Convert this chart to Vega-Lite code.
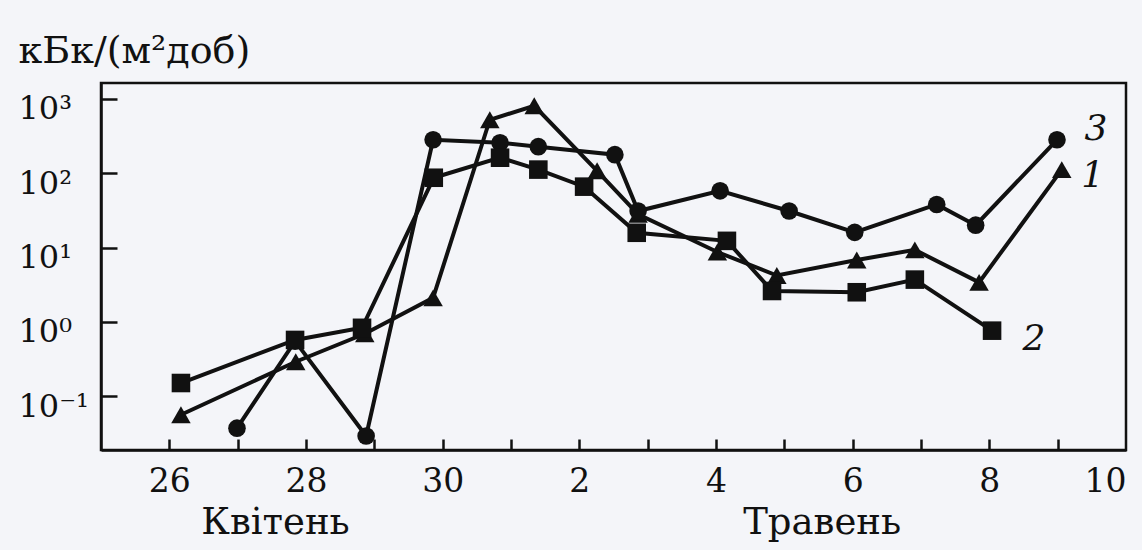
{
  "$schema": "https://vega.github.io/schema/vega-lite/v6.json",
  "width": 1025,
  "height": 367,
  "autosize": {"type": "none"},
  "padding": {"left": 101, "top": 83, "right": 16, "bottom": 100},
  "background": "#f4f5f9",
  "config": {
    "view": {"stroke": "#111111", "strokeWidth": 2.5},
    "font": "DejaVu Serif"
  },
  "resolve": {"axis": {"x": "independent", "y": "independent"}},
  "data": {
    "values": [
      {"s": "1", "t": 1.17, "v": 0.056},
      {"s": "1", "t": 2.85, "v": 0.29},
      {"s": "1", "t": 3.86, "v": 0.69},
      {"s": "1", "t": 4.86, "v": 2.1},
      {"s": "1", "t": 5.69, "v": 525},
      {"s": "1", "t": 6.34, "v": 810},
      {"s": "1", "t": 7.26, "v": 108},
      {"s": "1", "t": 7.86, "v": 28},
      {"s": "1", "t": 9.02, "v": 8.7},
      {"s": "1", "t": 9.89, "v": 4.2},
      {"s": "1", "t": 11.06, "v": 6.8},
      {"s": "1", "t": 11.91, "v": 9.3},
      {"s": "1", "t": 12.85, "v": 3.4},
      {"s": "1", "t": 14.06, "v": 112},
      {"s": "3", "t": 1.99, "v": 0.037},
      {"s": "3", "t": 2.84, "v": 0.55},
      {"s": "3", "t": 3.88, "v": 0.029},
      {"s": "3", "t": 4.86, "v": 282},
      {"s": "3", "t": 5.84, "v": 257},
      {"s": "3", "t": 6.4, "v": 228},
      {"s": "3", "t": 7.52, "v": 178},
      {"s": "3", "t": 7.86, "v": 31},
      {"s": "3", "t": 9.06, "v": 58},
      {"s": "3", "t": 10.07, "v": 31},
      {"s": "3", "t": 11.03, "v": 16},
      {"s": "3", "t": 12.23, "v": 38},
      {"s": "3", "t": 12.8, "v": 20},
      {"s": "3", "t": 13.99, "v": 282},
      {"s": "2", "t": 1.17, "v": 0.15},
      {"s": "2", "t": 2.84, "v": 0.57},
      {"s": "2", "t": 3.82, "v": 0.83},
      {"s": "2", "t": 4.87, "v": 87},
      {"s": "2", "t": 5.84, "v": 162},
      {"s": "2", "t": 6.4, "v": 112},
      {"s": "2", "t": 7.07, "v": 66},
      {"s": "2", "t": 7.84, "v": 15.8},
      {"s": "2", "t": 9.16, "v": 12.3},
      {"s": "2", "t": 9.82, "v": 2.6},
      {"s": "2", "t": 11.06, "v": 2.5},
      {"s": "2", "t": 11.91, "v": 3.7},
      {"s": "2", "t": 13.04, "v": 0.76}
    ]
  },
  "encoding": {
    "x": {
      "field": "t",
      "type": "quantitative",
      "scale": {"domain": [0, 15], "nice": false, "zero": false},
      "axis": {
        "orient": "bottom",
        "title": null,
        "grid": false,
        "ticks": false,
        "values": [1, 2, 3, 4, 5, 6, 7, 8, 9, 10, 11, 12, 13, 14, 15],
        "labelExpr": "datum.value % 2 == 1 ? '' + (datum.value <= 5 ? datum.value + 25 : datum.value - 5) : ''",
        "labelFont": "DejaVu Serif",
        "labelFontSize": 33,
        "labelColor": "#111111",
        "labelBaseline": "top",
        "labelPadding": 15,
        "labelAlign": {"condition": {"test": "datum.value == 15", "value": "right"}, "value": "center"},
        "labelOverlap": false,
        "labelFlush": false,
        "domainColor": "#111111",
        "domainWidth": 2.5
      }
    },
    "y": {
      "field": "v",
      "type": "quantitative",
      "scale": {"type": "log", "domain": [0.0188, 1641], "nice": false},
      "axis": {
        "orient": "left",
        "title": "кБк/(м²доб)",
        "titleAngle": 0,
        "titleAlign": "left",
        "titleBaseline": "alphabetic",
        "titleX": -83,
        "titleY": -21,
        "titleFont": "DejaVu Serif",
        "titleFontSize": 38,
        "titleFontWeight": "normal",
        "titleColor": "#111111",
        "grid": false,
        "ticks": false,
        "values": [0.1, 1, 10, 100, 1000],
        "labelExpr": "datum.value < 0.5 ? '10⁻¹' : datum.value < 5 ? '10⁰' : datum.value < 50 ? '10¹' : datum.value < 500 ? '10²' : '10³'",
        "labelFont": "DejaVu Serif",
        "labelFontSize": 32,
        "labelColor": "#111111",
        "labelAlign": "left",
        "labelBaseline": "middle",
        "labelOffset": 10,
        "labelPadding": 83,
        "labelFlush": false,
        "domainColor": "#111111",
        "domainWidth": 2.5
      }
    }
  },
  "layer": [
    {
      "mark": {"type": "line", "color": "#111111", "strokeWidth": 4},
      "encoding": {"detail": {"field": "s", "type": "nominal"}}
    },
    {
      "mark": {"type": "point", "filled": true, "opacity": 1, "color": "#111111", "strokeWidth": 0},
      "encoding": {
        "x": {
          "field": "t",
          "type": "quantitative",
          "axis": {
            "orient": "bottom",
            "title": null,
            "grid": false,
            "domain": false,
            "ticks": false,
            "values": [3, 11],
            "labelExpr": "datum.value == 3 ? 'Квітень' : 'Травень'",
            "labelFont": "DejaVu Serif",
            "labelFontSize": 37,
            "labelColor": "#111111",
            "labelBaseline": "top",
            "labelPadding": 54,
            "labelOffset": -31,
            "labelOverlap": false,
            "labelFlush": false
          }
        },
        "y": {
          "field": "v",
          "type": "quantitative",
          "axis": {
            "orient": "right",
            "offset": -1025,
            "title": null,
            "grid": false,
            "domain": false,
            "labels": false,
            "ticks": true,
            "tickSize": 16,
            "tickWidth": 2.5,
            "tickColor": "#111111",
            "values": [0.1, 1, 10, 100, 1000]
          }
        },
        "shape": {
          "field": "s",
          "type": "nominal",
          "scale": {"domain": ["1", "2", "3"], "range": ["triangle-up", "square", "circle"]},
          "legend": null
        },
        "size": {
          "field": "s",
          "type": "nominal",
          "scale": {"domain": ["1", "2", "3"], "range": [380, 310, 270]},
          "legend": null
        }
      }
    },
    {
      "transform": [{"filter": "datum.s == '3' && datum.t > 13.5"}],
      "mark": {"type": "text", "text": "3", "font": "DejaVu Serif", "fontStyle": "italic", "fontSize": 36, "color": "#111111", "align": "center", "baseline": "middle", "dx": 39, "dy": -11},
      "encoding": {
        "x": {
          "field": "t",
          "type": "quantitative",
          "axis": {
            "orient": "top",
            "offset": -367,
            "title": null,
            "grid": false,
            "domain": false,
            "labels": false,
            "ticks": true,
            "tickSize": 11,
            "tickWidth": 2.5,
            "tickColor": "#111111",
            "values": [1, 2, 3, 4, 5, 6, 7, 8, 9, 10, 11, 12, 13, 14]
          }
        },
        "y": {"field": "v", "type": "quantitative", "axis": null}
      }
    },
    {
      "transform": [{"filter": "datum.s == '1' && datum.t > 13.5"}],
      "mark": {"type": "text", "text": "1", "font": "DejaVu Serif", "fontStyle": "italic", "fontSize": 36, "color": "#111111", "align": "center", "baseline": "middle", "dx": 31, "dy": 6},
      "encoding": {
        "x": {"field": "t", "type": "quantitative", "axis": null},
        "y": {"field": "v", "type": "quantitative", "axis": null}
      }
    },
    {
      "transform": [{"filter": "datum.s == '2' && datum.t > 12.5"}],
      "mark": {"type": "text", "text": "2", "font": "DejaVu Serif", "fontStyle": "italic", "fontSize": 36, "color": "#111111", "align": "center", "baseline": "middle", "dx": 42, "dy": 8},
      "encoding": {
        "x": {"field": "t", "type": "quantitative", "axis": null},
        "y": {"field": "v", "type": "quantitative", "axis": null}
      }
    }
  ]
}
